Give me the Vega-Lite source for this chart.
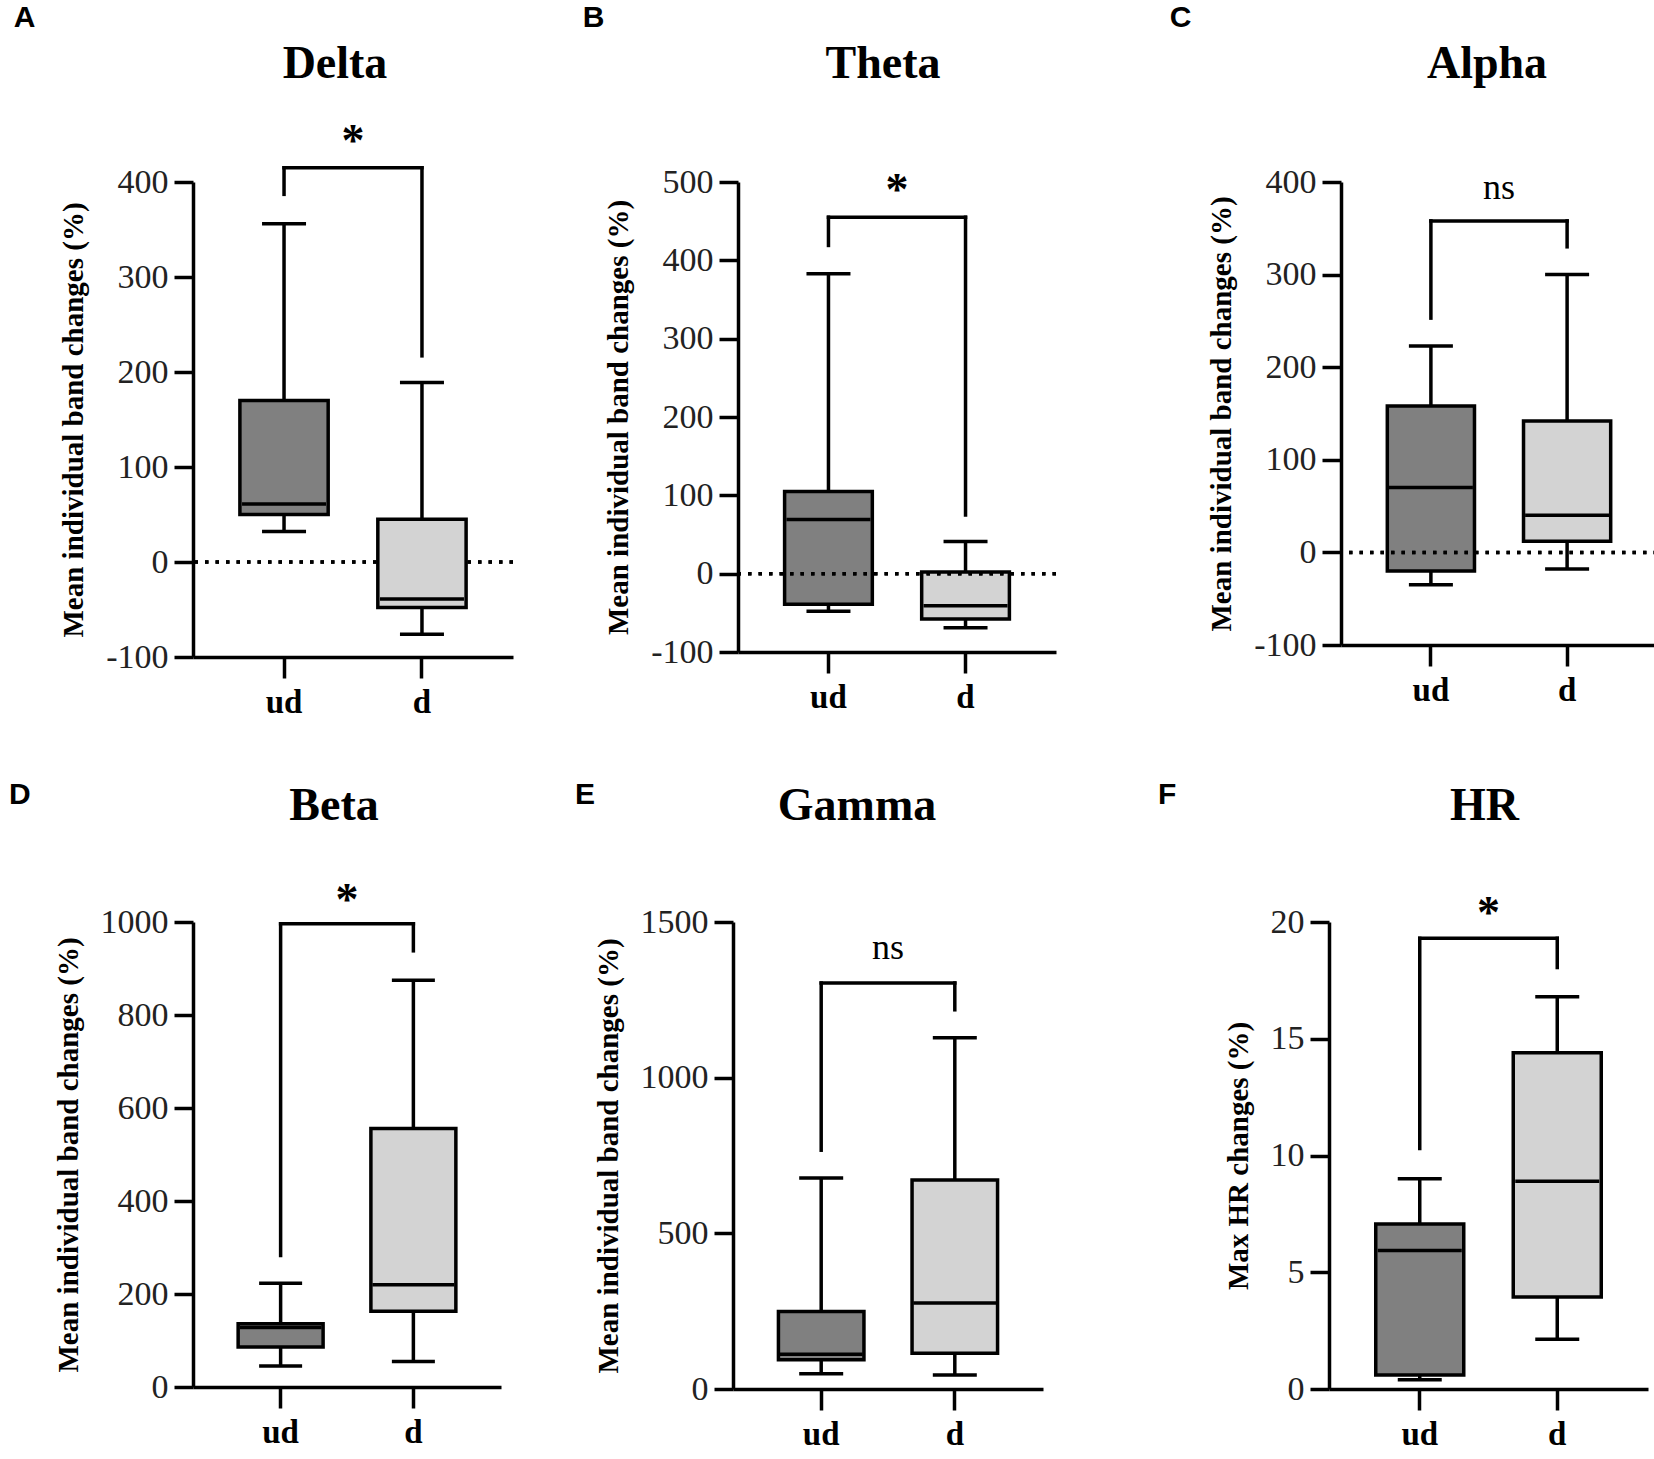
{
  "$schema": "https://vega.github.io/schema/vega-lite/v6.json",
  "background": "white",
  "padding": {"left": 9, "top": 3, "right": 0, "bottom": 0},
  "datasets": {
    "delta": [
      {"grp": "ud", "lo": 32, "q1": 50, "med": 61, "q3": 170, "hi": 356},
      {"grp": "d", "lo": -76, "q1": -48, "med": -39, "q3": 45, "hi": 189}
    ],
    "delta_sig": [{"a": "ud", "b": "d", "top": 415, "ya": 387, "yb": 217, "label": "*", "ly": 442}],
    "theta": [
      {"grp": "ud", "lo": -48, "q1": -39, "med": 69, "q3": 105, "hi": 383},
      {"grp": "d", "lo": -69, "q1": -58, "med": -41, "q3": 2, "hi": 41}
    ],
    "theta_sig": [{"a": "ud", "b": "d", "top": 455, "ya": 419, "yb": 75, "label": "*", "ly": 488}],
    "alpha": [
      {"grp": "ud", "lo": -35, "q1": -20, "med": 70, "q3": 158, "hi": 223},
      {"grp": "d", "lo": -18, "q1": 12, "med": 40, "q3": 142, "hi": 300}
    ],
    "alpha_sig": [{"a": "ud", "b": "d", "top": 358, "ya": 253, "yb": 330, "label": "ns", "ly": 393}],
    "beta": [
      {"grp": "ud", "lo": 45, "q1": 86, "med": 128, "q3": 136, "hi": 223},
      {"grp": "d", "lo": 55, "q1": 163, "med": 220, "q3": 556, "hi": 875}
    ],
    "beta_sig": [{"a": "ud", "b": "d", "top": 996, "ya": 283, "yb": 938, "label": "*", "ly": 1045}],
    "gamma": [
      {"grp": "ud", "lo": 49, "q1": 94, "med": 112, "q3": 249, "hi": 678},
      {"grp": "d", "lo": 45, "q1": 115, "med": 276, "q3": 671, "hi": 1128}
    ],
    "gamma_sig": [{"a": "ud", "b": "d", "top": 1304, "ya": 767, "yb": 1218, "label": "ns", "ly": 1416}],
    "hr": [
      {"grp": "ud", "lo": 0.4, "q1": 0.6, "med": 5.93, "q3": 7.07, "hi": 9.0},
      {"grp": "d", "lo": 2.13, "q1": 3.94, "med": 8.9, "q3": 14.4, "hi": 16.8}
    ],
    "hr_sig": [{"a": "ud", "b": "d", "top": 19.3, "ya": 10.3, "yb": 18.05, "label": "*", "ly": 20.35}]
  },
  "vconcat": [
    {
      "spacing": 111,
      "hconcat": [
        {
          "spacing": 67,
          "hconcat": [
            {
              "title": {"text": "A", "anchor": "start", "frame": "bounds", "font": "Liberation Sans", "fontSize": 30, "fontWeight": "bold", "offset": 8, "dx": -46},
              "vconcat": [
                {
                  "title": {"text": "Delta", "offset": 31, "dx": -18},
                  "width": 320,
                  "height": 475,
                  "data": {"name": "delta"},
                  "layer": [
                    {"mark": {"type": "rule", "color": "black", "strokeWidth": 3.5},
                     "encoding": {
                       "x": {"field": "grp", "type": "nominal", "scale": {"domain": ["ud", "d"], "paddingInner": 0, "paddingOuter": 0.16}, "axis": {"title": null}},
                       "y": {"field": "lo", "type": "quantitative", "scale": {"domain": [-100, 400], "nice": false, "zero": false}, "axis": {"values": [-100, 0, 100, 200, 300, 400], "labelExpr": "datum.value + ''", "title": "Mean individual band changes (%)"}},
                       "y2": {"field": "hi"}}},
                    {"mark": {"type": "rule", "color": "black", "strokeWidth": 3.5, "strokeDash": [3.5, 7]},
                     "encoding": {"y": {"datum": 0, "type": "quantitative"}}},
                    {"mark": {"type": "bar", "width": {"band": 0.64}, "stroke": "black", "strokeWidth": 3.5},
                     "encoding": {
                       "x": {"field": "grp", "type": "nominal"},
                       "y": {"field": "q1", "type": "quantitative"},
                       "y2": {"field": "q3"},
                       "color": {"field": "grp", "type": "nominal", "scale": {"domain": ["ud", "d"], "range": ["#808080", "#d3d3d3"]}, "legend": null}}},
                    {"mark": {"type": "tick", "color": "black", "opacity": 1, "thickness": 3.5, "size": 84},
                     "encoding": {"x": {"field": "grp", "type": "nominal"}, "y": {"field": "med", "type": "quantitative"}}},
                    {"mark": {"type": "tick", "color": "black", "opacity": 1, "thickness": 3.5, "size": 44},
                     "encoding": {"x": {"field": "grp", "type": "nominal"}, "y": {"field": "hi", "type": "quantitative"}}},
                    {"mark": {"type": "tick", "color": "black", "opacity": 1, "thickness": 3.5, "size": 44},
                     "encoding": {"x": {"field": "grp", "type": "nominal"}, "y": {"field": "lo", "type": "quantitative"}}},
                    {"data": {"name": "delta_sig"}, "mark": {"type": "rule", "color": "black", "strokeWidth": 3.5, "strokeCap": "square"},
                     "encoding": {"x": {"field": "a", "type": "nominal"}, "x2": {"field": "b"}, "y": {"field": "top", "type": "quantitative"}}},
                    {"data": {"name": "delta_sig"}, "mark": {"type": "rule", "color": "black", "strokeWidth": 3.5, "strokeCap": "square"},
                     "encoding": {"x": {"field": "a", "type": "nominal"}, "y": {"field": "top", "type": "quantitative"}, "y2": {"field": "ya"}}},
                    {"data": {"name": "delta_sig"}, "mark": {"type": "rule", "color": "black", "strokeWidth": 3.5, "strokeCap": "square"},
                     "encoding": {"x": {"field": "b", "type": "nominal"}, "y": {"field": "top", "type": "quantitative"}, "y2": {"field": "yb"}}},
                    {"data": {"name": "delta_sig"}, "mark": {"type": "text", "font": "Liberation Serif", "fontSize": 46, "fontWeight": "bold", "baseline": "middle", "color": "black"},
                     "encoding": {"x": {"field": "a", "type": "nominal", "bandPosition": 1}, "y": {"field": "ly", "type": "quantitative"}, "text": {"field": "label"}}}
                  ]
                }
              ]
            },
            {
              "title": {"text": "B", "anchor": "start", "frame": "bounds", "font": "Liberation Sans", "fontSize": 30, "fontWeight": "bold", "offset": 8, "dx": -22},
              "vconcat": [
                {
                  "title": {"text": "Theta", "offset": 77, "dx": -14},
                  "width": 318,
                  "height": 470,
                  "data": {"name": "theta"},
                  "layer": [
                    {"mark": {"type": "rule", "color": "black", "strokeWidth": 3.5},
                     "encoding": {
                       "x": {"field": "grp", "type": "nominal", "scale": {"domain": ["ud", "d"], "paddingInner": 0, "paddingOuter": 0.16}, "axis": {"title": null}},
                       "y": {"field": "lo", "type": "quantitative", "scale": {"domain": [-100, 500], "nice": false, "zero": false}, "axis": {"values": [-100, 0, 100, 200, 300, 400, 500], "labelExpr": "datum.value + ''", "title": "Mean individual band changes (%)"}},
                       "y2": {"field": "hi"}}},
                    {"mark": {"type": "bar", "width": {"band": 0.64}, "stroke": "black", "strokeWidth": 3.5},
                     "encoding": {
                       "x": {"field": "grp", "type": "nominal"},
                       "y": {"field": "q1", "type": "quantitative"},
                       "y2": {"field": "q3"},
                       "color": {"field": "grp", "type": "nominal", "scale": {"domain": ["ud", "d"], "range": ["#808080", "#d3d3d3"]}, "legend": null}}},
                    {"mark": {"type": "tick", "color": "black", "opacity": 1, "thickness": 3.5, "size": 84},
                     "encoding": {"x": {"field": "grp", "type": "nominal"}, "y": {"field": "med", "type": "quantitative"}}},
                    {"mark": {"type": "tick", "color": "black", "opacity": 1, "thickness": 3.5, "size": 44},
                     "encoding": {"x": {"field": "grp", "type": "nominal"}, "y": {"field": "hi", "type": "quantitative"}}},
                    {"mark": {"type": "tick", "color": "black", "opacity": 1, "thickness": 3.5, "size": 44},
                     "encoding": {"x": {"field": "grp", "type": "nominal"}, "y": {"field": "lo", "type": "quantitative"}}},
                    {"mark": {"type": "rule", "color": "black", "strokeWidth": 3.5, "strokeDash": [3.5, 7]},
                     "encoding": {"y": {"datum": 0, "type": "quantitative"}}},
                    {"data": {"name": "theta_sig"}, "mark": {"type": "rule", "color": "black", "strokeWidth": 3.5, "strokeCap": "square"},
                     "encoding": {"x": {"field": "a", "type": "nominal"}, "x2": {"field": "b"}, "y": {"field": "top", "type": "quantitative"}}},
                    {"data": {"name": "theta_sig"}, "mark": {"type": "rule", "color": "black", "strokeWidth": 3.5, "strokeCap": "square"},
                     "encoding": {"x": {"field": "a", "type": "nominal"}, "y": {"field": "top", "type": "quantitative"}, "y2": {"field": "ya"}}},
                    {"data": {"name": "theta_sig"}, "mark": {"type": "rule", "color": "black", "strokeWidth": 3.5, "strokeCap": "square"},
                     "encoding": {"x": {"field": "b", "type": "nominal"}, "y": {"field": "top", "type": "quantitative"}, "y2": {"field": "yb"}}},
                    {"data": {"name": "theta_sig"}, "mark": {"type": "text", "font": "Liberation Serif", "fontSize": 46, "fontWeight": "bold", "baseline": "middle", "color": "black"},
                     "encoding": {"x": {"field": "a", "type": "nominal", "bandPosition": 1}, "y": {"field": "ly", "type": "quantitative"}, "text": {"field": "label"}}}
                  ]
                }
              ]
            }
          ]
        },
        {
          "title": {"text": "C", "anchor": "start", "frame": "bounds", "font": "Liberation Sans", "fontSize": 30, "fontWeight": "bold", "offset": 8, "dx": -38},
          "vconcat": [
            {
              "title": {"text": "Alpha", "offset": 77, "dx": -12},
              "width": 316,
              "height": 463,
              "data": {"name": "alpha"},
              "layer": [
                {"mark": {"type": "rule", "color": "black", "strokeWidth": 3.5},
                 "encoding": {
                   "x": {"field": "grp", "type": "nominal", "scale": {"domain": ["ud", "d"], "paddingInner": 0, "paddingOuter": 0.16}, "axis": {"title": null}},
                   "y": {"field": "lo", "type": "quantitative", "scale": {"domain": [-100, 400], "nice": false, "zero": false}, "axis": {"values": [-100, 0, 100, 200, 300, 400], "labelExpr": "datum.value + ''", "title": "Mean individual band changes (%)"}},
                   "y2": {"field": "hi"}}},
                {"mark": {"type": "bar", "width": {"band": 0.64}, "stroke": "black", "strokeWidth": 3.5},
                 "encoding": {
                   "x": {"field": "grp", "type": "nominal"},
                   "y": {"field": "q1", "type": "quantitative"},
                   "y2": {"field": "q3"},
                   "color": {"field": "grp", "type": "nominal", "scale": {"domain": ["ud", "d"], "range": ["#808080", "#d3d3d3"]}, "legend": null}}},
                {"mark": {"type": "tick", "color": "black", "opacity": 1, "thickness": 3.5, "size": 84},
                 "encoding": {"x": {"field": "grp", "type": "nominal"}, "y": {"field": "med", "type": "quantitative"}}},
                {"mark": {"type": "tick", "color": "black", "opacity": 1, "thickness": 3.5, "size": 44},
                 "encoding": {"x": {"field": "grp", "type": "nominal"}, "y": {"field": "hi", "type": "quantitative"}}},
                {"mark": {"type": "tick", "color": "black", "opacity": 1, "thickness": 3.5, "size": 44},
                 "encoding": {"x": {"field": "grp", "type": "nominal"}, "y": {"field": "lo", "type": "quantitative"}}},
                {"mark": {"type": "rule", "color": "black", "strokeWidth": 3.5, "strokeDash": [3.5, 7]},
                 "encoding": {"y": {"datum": 0, "type": "quantitative"}}},
                {"data": {"name": "alpha_sig"}, "mark": {"type": "rule", "color": "black", "strokeWidth": 3.5, "strokeCap": "square"},
                 "encoding": {"x": {"field": "a", "type": "nominal"}, "x2": {"field": "b"}, "y": {"field": "top", "type": "quantitative"}}},
                {"data": {"name": "alpha_sig"}, "mark": {"type": "rule", "color": "black", "strokeWidth": 3.5, "strokeCap": "square"},
                 "encoding": {"x": {"field": "a", "type": "nominal"}, "y": {"field": "top", "type": "quantitative"}, "y2": {"field": "ya"}}},
                {"data": {"name": "alpha_sig"}, "mark": {"type": "rule", "color": "black", "strokeWidth": 3.5, "strokeCap": "square"},
                 "encoding": {"x": {"field": "b", "type": "nominal"}, "y": {"field": "top", "type": "quantitative"}, "y2": {"field": "yb"}}},
                {"data": {"name": "alpha_sig"}, "mark": {"type": "text", "font": "Liberation Serif", "fontSize": 36, "baseline": "middle", "color": "black"},
                 "encoding": {"x": {"field": "a", "type": "nominal", "bandPosition": 1}, "y": {"field": "ly", "type": "quantitative"}, "text": {"field": "label"}}}
              ]
            }
          ]
        }
      ]
    },
    {
      "spacing": 115,
      "hconcat": [
        {
          "spacing": 74,
          "hconcat": [
            {
              "title": {"text": "D", "anchor": "start", "frame": "bounds", "font": "Liberation Sans", "fontSize": 30, "fontWeight": "bold", "offset": -27, "dx": -45},
              "vconcat": [
                {
                  "title": {"text": "Beta", "offset": 48, "dx": -13},
                  "width": 308,
                  "height": 465,
                  "data": {"name": "beta"},
                  "layer": [
                    {"mark": {"type": "rule", "color": "black", "strokeWidth": 3.5},
                     "encoding": {
                       "x": {"field": "grp", "type": "nominal", "scale": {"domain": ["ud", "d"], "paddingInner": 0, "paddingOuter": 0.16}, "axis": {"title": null}},
                       "y": {"field": "lo", "type": "quantitative", "scale": {"domain": [0, 1000], "nice": false}, "axis": {"values": [0, 200, 400, 600, 800, 1000], "labelExpr": "datum.value + ''", "title": "Mean individual band changes (%)"}},
                       "y2": {"field": "hi"}}},
                    {"mark": {"type": "bar", "width": {"band": 0.64}, "stroke": "black", "strokeWidth": 3.5},
                     "encoding": {
                       "x": {"field": "grp", "type": "nominal"},
                       "y": {"field": "q1", "type": "quantitative"},
                       "y2": {"field": "q3"},
                       "color": {"field": "grp", "type": "nominal", "scale": {"domain": ["ud", "d"], "range": ["#808080", "#d3d3d3"]}, "legend": null}}},
                    {"mark": {"type": "tick", "color": "black", "opacity": 1, "thickness": 3.5, "size": 82},
                     "encoding": {"x": {"field": "grp", "type": "nominal"}, "y": {"field": "med", "type": "quantitative"}}},
                    {"mark": {"type": "tick", "color": "black", "opacity": 1, "thickness": 3.5, "size": 43},
                     "encoding": {"x": {"field": "grp", "type": "nominal"}, "y": {"field": "hi", "type": "quantitative"}}},
                    {"mark": {"type": "tick", "color": "black", "opacity": 1, "thickness": 3.5, "size": 43},
                     "encoding": {"x": {"field": "grp", "type": "nominal"}, "y": {"field": "lo", "type": "quantitative"}}},
                    {"data": {"name": "beta_sig"}, "mark": {"type": "rule", "color": "black", "strokeWidth": 3.5, "strokeCap": "square"},
                     "encoding": {"x": {"field": "a", "type": "nominal"}, "x2": {"field": "b"}, "y": {"field": "top", "type": "quantitative"}}},
                    {"data": {"name": "beta_sig"}, "mark": {"type": "rule", "color": "black", "strokeWidth": 3.5, "strokeCap": "square"},
                     "encoding": {"x": {"field": "a", "type": "nominal"}, "y": {"field": "top", "type": "quantitative"}, "y2": {"field": "ya"}}},
                    {"data": {"name": "beta_sig"}, "mark": {"type": "rule", "color": "black", "strokeWidth": 3.5, "strokeCap": "square"},
                     "encoding": {"x": {"field": "b", "type": "nominal"}, "y": {"field": "top", "type": "quantitative"}, "y2": {"field": "yb"}}},
                    {"data": {"name": "beta_sig"}, "mark": {"type": "text", "font": "Liberation Serif", "fontSize": 46, "fontWeight": "bold", "baseline": "middle", "color": "black"},
                     "encoding": {"x": {"field": "a", "type": "nominal", "bandPosition": 1}, "y": {"field": "ly", "type": "quantitative"}, "text": {"field": "label"}}}
                  ]
                }
              ]
            },
            {
              "title": {"text": "E", "anchor": "start", "frame": "bounds", "font": "Liberation Sans", "fontSize": 30, "fontWeight": "bold", "offset": -27, "dx": -19},
              "vconcat": [
                {
                  "title": {"text": "Gamma", "offset": 75, "dx": -31},
                  "width": 310,
                  "height": 467,
                  "data": {"name": "gamma"},
                  "layer": [
                    {"mark": {"type": "rule", "color": "black", "strokeWidth": 3.5},
                     "encoding": {
                       "x": {"field": "grp", "type": "nominal", "scale": {"domain": ["ud", "d"], "paddingInner": 0, "paddingOuter": 0.16}, "axis": {"title": null}},
                       "y": {"field": "lo", "type": "quantitative", "scale": {"domain": [0, 1500], "nice": false}, "axis": {"values": [0, 500, 1000, 1500], "labelExpr": "datum.value + ''", "title": "Mean individual band changes (%)"}},
                       "y2": {"field": "hi"}}},
                    {"mark": {"type": "bar", "width": {"band": 0.64}, "stroke": "black", "strokeWidth": 3.5},
                     "encoding": {
                       "x": {"field": "grp", "type": "nominal"},
                       "y": {"field": "q1", "type": "quantitative"},
                       "y2": {"field": "q3"},
                       "color": {"field": "grp", "type": "nominal", "scale": {"domain": ["ud", "d"], "range": ["#808080", "#d3d3d3"]}, "legend": null}}},
                    {"mark": {"type": "tick", "color": "black", "opacity": 1, "thickness": 3.5, "size": 83},
                     "encoding": {"x": {"field": "grp", "type": "nominal"}, "y": {"field": "med", "type": "quantitative"}}},
                    {"mark": {"type": "tick", "color": "black", "opacity": 1, "thickness": 3.5, "size": 44},
                     "encoding": {"x": {"field": "grp", "type": "nominal"}, "y": {"field": "hi", "type": "quantitative"}}},
                    {"mark": {"type": "tick", "color": "black", "opacity": 1, "thickness": 3.5, "size": 44},
                     "encoding": {"x": {"field": "grp", "type": "nominal"}, "y": {"field": "lo", "type": "quantitative"}}},
                    {"data": {"name": "gamma_sig"}, "mark": {"type": "rule", "color": "black", "strokeWidth": 3.5, "strokeCap": "square"},
                     "encoding": {"x": {"field": "a", "type": "nominal"}, "x2": {"field": "b"}, "y": {"field": "top", "type": "quantitative"}}},
                    {"data": {"name": "gamma_sig"}, "mark": {"type": "rule", "color": "black", "strokeWidth": 3.5, "strokeCap": "square"},
                     "encoding": {"x": {"field": "a", "type": "nominal"}, "y": {"field": "top", "type": "quantitative"}, "y2": {"field": "ya"}}},
                    {"data": {"name": "gamma_sig"}, "mark": {"type": "rule", "color": "black", "strokeWidth": 3.5, "strokeCap": "square"},
                     "encoding": {"x": {"field": "b", "type": "nominal"}, "y": {"field": "top", "type": "quantitative"}, "y2": {"field": "yb"}}},
                    {"data": {"name": "gamma_sig"}, "mark": {"type": "text", "font": "Liberation Serif", "fontSize": 36, "baseline": "middle", "color": "black"},
                     "encoding": {"x": {"field": "a", "type": "nominal", "bandPosition": 1}, "y": {"field": "ly", "type": "quantitative"}, "text": {"field": "label"}}}
                  ]
                }
              ]
            }
          ]
        },
        {
          "title": {"text": "F", "anchor": "start", "frame": "bounds", "font": "Liberation Sans", "fontSize": 30, "fontWeight": "bold", "offset": -27, "dx": -66},
          "vconcat": [
            {
              "title": {"text": "HR", "offset": 61, "dx": -4},
              "width": 319,
              "height": 467,
              "data": {"name": "hr"},
              "layer": [
                {"mark": {"type": "rule", "color": "black", "strokeWidth": 3.5},
                 "encoding": {
                   "x": {"field": "grp", "type": "nominal", "scale": {"domain": ["ud", "d"], "paddingInner": 0, "paddingOuter": 0.16}, "axis": {"title": null}},
                   "y": {"field": "lo", "type": "quantitative", "scale": {"domain": [0, 20], "nice": false}, "axis": {"values": [0, 5, 10, 15, 20], "labelExpr": "datum.value + ''", "title": "Max HR changes (%)"}},
                   "y2": {"field": "hi"}}},
                {"mark": {"type": "bar", "width": {"band": 0.64}, "stroke": "black", "strokeWidth": 3.5},
                 "encoding": {
                   "x": {"field": "grp", "type": "nominal"},
                   "y": {"field": "q1", "type": "quantitative"},
                   "y2": {"field": "q3"},
                   "color": {"field": "grp", "type": "nominal", "scale": {"domain": ["ud", "d"], "range": ["#808080", "#d3d3d3"]}, "legend": null}}},
                {"mark": {"type": "tick", "color": "black", "opacity": 1, "thickness": 3.5, "size": 84},
                 "encoding": {"x": {"field": "grp", "type": "nominal"}, "y": {"field": "med", "type": "quantitative"}}},
                {"mark": {"type": "tick", "color": "black", "opacity": 1, "thickness": 3.5, "size": 44},
                 "encoding": {"x": {"field": "grp", "type": "nominal"}, "y": {"field": "hi", "type": "quantitative"}}},
                {"mark": {"type": "tick", "color": "black", "opacity": 1, "thickness": 3.5, "size": 44},
                 "encoding": {"x": {"field": "grp", "type": "nominal"}, "y": {"field": "lo", "type": "quantitative"}}},
                {"data": {"name": "hr_sig"}, "mark": {"type": "rule", "color": "black", "strokeWidth": 3.5, "strokeCap": "square"},
                 "encoding": {"x": {"field": "a", "type": "nominal"}, "x2": {"field": "b"}, "y": {"field": "top", "type": "quantitative"}}},
                {"data": {"name": "hr_sig"}, "mark": {"type": "rule", "color": "black", "strokeWidth": 3.5, "strokeCap": "square"},
                 "encoding": {"x": {"field": "a", "type": "nominal"}, "y": {"field": "top", "type": "quantitative"}, "y2": {"field": "ya"}}},
                {"data": {"name": "hr_sig"}, "mark": {"type": "rule", "color": "black", "strokeWidth": 3.5, "strokeCap": "square"},
                 "encoding": {"x": {"field": "b", "type": "nominal"}, "y": {"field": "top", "type": "quantitative"}, "y2": {"field": "yb"}}},
                {"data": {"name": "hr_sig"}, "mark": {"type": "text", "font": "Liberation Serif", "fontSize": 46, "fontWeight": "bold", "baseline": "middle", "color": "black"},
                 "encoding": {"x": {"field": "a", "type": "nominal", "bandPosition": 1}, "y": {"field": "ly", "type": "quantitative"}, "text": {"field": "label"}}}
              ]
            }
          ]
        }
      ]
    }
  ],
  "spacing": 60,
  "config": {
    "view": {"stroke": null},
    "title": {"font": "Liberation Serif", "fontSize": 46, "fontWeight": "bold", "color": "black", "anchor": "middle"},
    "axis": {"domainColor": "black", "domainWidth": 3.5, "tickColor": "black", "tickWidth": 3.5, "grid": false, "labelFont": "Liberation Serif", "titleFont": "Liberation Serif"},
    "axisY": {"labelFontSize": 34, "labelPadding": 6, "labelColor": "#222", "tickSize": 19, "titleFontSize": 29, "titleFontWeight": "bold", "titleColor": "black", "titlePadding": 17},
    "axisX": {"labelFontSize": 33, "labelFontWeight": "bold", "labelColor": "black", "labelPadding": 8, "labelAngle": 0, "tickSize": 21}
  }
}
